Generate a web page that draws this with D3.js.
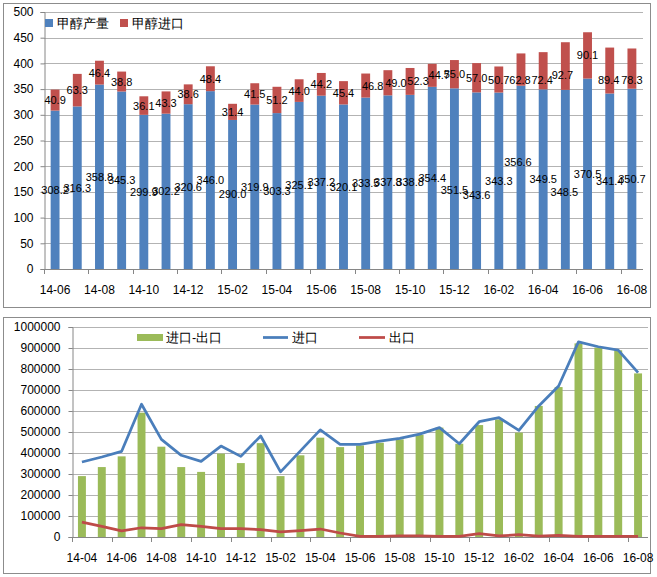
<!DOCTYPE html>
<html><head><meta charset="utf-8">
<script src="https://cdn.jsdelivr.net/npm/d3@7"></script>
<style>body{margin:0;background:#fff}svg{display:block}text{font-family:"Liberation Sans",Arial,sans-serif}</style>
</head><body><svg id="c" width="657" height="577"></svg>
<script>
// ---- Top chart data ----
const topMonths = ["14-06","14-07","14-08","14-09","14-10","14-11","14-12","15-01","15-02","15-03","15-04","15-05","15-06","15-07","15-08","15-09","15-10","15-11","15-12","16-01","16-02","16-03","16-04","16-05","16-06","16-07","16-08"];
const production = [308.2,316.3,358.8,345.3,299.9,302.2,320.6,346.0,290.0,319.9,303.3,325.1,337.2,320.1,333.5,337.8,338.8,354.4,351.5,343.6,343.3,356.6,349.5,348.5,370.5,341.4,350.7];
const imports = [40.9,63.3,46.4,38.8,36.1,43.3,38.6,48.4,31.4,41.5,51.2,44.0,44.2,45.4,46.8,49.0,52.3,44.7,55.0,57.0,50.7,62.8,72.4,92.7,90.1,89.4,78.3];
const topTicks = [0,50,100,150,200,250,300,350,400,450,500];
const topSeriesNames = ["甲醇产量","甲醇进口"];

// ---- Bottom chart data ----
const botMonths = ["14-04","14-05","14-06","14-07","14-08","14-09","14-10","14-11","14-12","15-01","15-02","15-03","15-04","15-05","15-06","15-07","15-08","15-09","15-10","15-11","15-12","16-01","16-02","16-03","16-04","16-05","16-06","16-07","16-08"];
const netImport = [290000,333000,384000,592000,430000,333000,310000,397000,352000,447000,290000,389000,473000,428000,436000,449000,465000,486000,521000,444000,533000,560000,497000,624000,714000,922000,902000,889000,779000];
const importLine = [357000,381000,408000,632000,465000,389000,360000,433000,384000,481000,310000,410000,510000,441000,441000,457000,470000,490000,521000,444000,549000,568000,508000,624000,719000,929000,906000,890000,783000];
const exportLine = [71000,51000,29000,44000,40000,59000,51000,40000,40000,35000,24000,30000,38000,19000,3000,3000,5000,5000,3000,3000,16000,5000,11000,4000,8000,3000,3000,3000,3000];
const botTicks = [0,100000,200000,300000,400000,500000,600000,700000,800000,900000,1000000];
const botSeriesNames = ["进口-出口","进口","出口"];

// ---- layout: manual data-label nudges (px) as in the reference ----
const prodLabelNudge = {"15-12":[0,11],"16-01":[0,14],"16-03":[-3,-15],"16-05":[-1,13]};
const impLabelNudge = {"15-08":[7,0],"15-09":[8,0],"15-10":[8,0],"15-11":[7,0],"16-03":[-1,10],"16-04":[-1,9],"16-05":[-3,9],"16-07":[-1,9.5],"16-08":[0,11]};

const BLUE="#4f81bd", RED="#c0504d", GREEN="#9bbb59", LBLUE="#4a7ebb", LRED="#be4b48";
const GRID="#b3b3b3", AXIS="#868686", BORDER="#8c8c8c";
const CJK='"Noto Sans CJK SC",sans-serif';

const svg = d3.select("#c");

svg.append("rect").attr("x",3.5).attr("y",3.5).attr("width",647).attr("height",304).attr("fill","#fff").attr("stroke",BORDER);
svg.append("rect").attr("x",3.5).attr("y",317.5).attr("width",647).attr("height",256).attr("fill","#fff").attr("stroke",BORDER);

// ================= TOP =================
(function(){
  const L=44, R=643, T=12, B=269;
  const x = d3.scaleBand().domain(topMonths).range([L,R]).padding(0);
  const y = d3.scaleLinear().domain([0,500]).range([B,T]);
  const g = svg.append("g");
  g.selectAll("line.grid").data(topTicks.filter(d=>d>0)).join("line")
    .attr("x1",L).attr("x2",R).attr("y1",d=>Math.round(y(d))+0.5).attr("y2",d=>Math.round(y(d))+0.5)
    .attr("stroke",GRID);
  const ya = g.append("g").attr("transform",`translate(${L+0.5},0)`)
    .call(d3.axisLeft(y).tickValues(topTicks).tickSize(4).tickPadding(7).tickFormat(d3.format("d")));
  ya.select(".domain").attr("stroke",AXIS);
  ya.selectAll(".tick line").attr("stroke",AXIS);
  ya.selectAll(".tick text").attr("font-size",12).attr("fill","#000").attr("font-family","Liberation Sans,Arial");
  const bw = x.bandwidth()*0.4;
  const cx = d=>x(d)+x.bandwidth()/2;
  g.selectAll("rect.p").data(topMonths).join("rect")
    .attr("x",(d)=>cx(d)-bw/2).attr("width",bw)
    .attr("y",(d,i)=>y(production[i])).attr("height",(d,i)=>y(0)-y(production[i]))
    .attr("fill",BLUE);
  g.selectAll("rect.i").data(topMonths).join("rect")
    .attr("x",(d)=>cx(d)-bw/2).attr("width",bw)
    .attr("y",(d,i)=>y(production[i]+imports[i])).attr("height",(d,i)=>y(production[i])-y(production[i]+imports[i]))
    .attr("fill",RED);
  g.append("line").attr("x1",L).attr("x2",R).attr("y1",B+0.5).attr("y2",B+0.5).attr("stroke",AXIS);
  const tickIdx = d3.range(0,topMonths.length+1,2);
  g.selectAll("line.xt").data(tickIdx).join("line")
    .attr("x1",i=>Math.round(i<topMonths.length?x(topMonths[i]):R)+0.5)
    .attr("x2",i=>Math.round(i<topMonths.length?x(topMonths[i]):R)+0.5)
    .attr("y1",B).attr("y2",B+5).attr("stroke",AXIS);
  g.selectAll("text.xl").data(topMonths.filter((d,i)=>i%2===0)).join("text")
    .attr("x",d=>cx(d)).attr("y",B+25).attr("text-anchor","middle").attr("font-size",12).text(d=>d);
  const nd = (m,d,k)=> (m[d]?m[d][k]:0);
  g.selectAll("text.pl").data(topMonths).join("text")
    .attr("x",d=>cx(d)+nd(prodLabelNudge,d,0)).attr("y",(d,i)=>y(production[i]/2)+4+nd(prodLabelNudge,d,1)).attr("text-anchor","middle")
    .attr("font-size",11).text((d,i)=>production[i].toFixed(1));
  g.selectAll("text.il").data(topMonths).join("text")
    .attr("x",d=>cx(d)+nd(impLabelNudge,d,0)).attr("y",(d,i)=>y(production[i]+imports[i]/2)+4+nd(impLabelNudge,d,1)).attr("text-anchor","middle")
    .attr("font-size",11).text((d,i)=>imports[i].toFixed(1));
  const lg = g.append("g");
  [[45,BLUE,topSeriesNames[0]],[120,RED,topSeriesNames[1]]].forEach(([lx,c,t])=>{
    lg.append("rect").attr("x",lx).attr("y",19).attr("width",8).attr("height",8).attr("fill",c);
    lg.append("text").attr("x",lx+12).attr("y",27.5).attr("font-size",12.5).attr("font-family",CJK).text(t);
  });
})();

// ================= BOTTOM =================
(function(){
  const L=72, R=648, T=327, B=537;
  const x = d3.scaleBand().domain(botMonths).range([L,R]).padding(0);
  const y = d3.scaleLinear().domain([0,1000000]).range([B,T]);
  const g = svg.append("g");
  g.selectAll("line.grid").data(botTicks.filter(d=>d>0)).join("line")
    .attr("x1",L).attr("x2",R).attr("y1",d=>Math.round(y(d))+0.5).attr("y2",d=>Math.round(y(d))+0.5)
    .attr("stroke",GRID);
  const ya = g.append("g").attr("transform",`translate(${L+0.5},0)`)
    .call(d3.axisLeft(y).tickValues(botTicks).tickSize(4).tickPadding(8).tickFormat(d3.format("d")));
  ya.select(".domain").attr("stroke",AXIS);
  ya.selectAll(".tick line").attr("stroke",AXIS);
  ya.selectAll(".tick text").attr("font-size",12).attr("fill","#000").attr("font-family","Liberation Sans,Arial");
  const bw = x.bandwidth()*0.4;
  const cx = d=>x(d)+x.bandwidth()/2;
  g.selectAll("rect.n").data(botMonths).join("rect")
    .attr("x",d=>cx(d)-bw/2).attr("width",bw)
    .attr("y",(d,i)=>y(netImport[i])).attr("height",(d,i)=>y(0)-y(netImport[i]))
    .attr("fill",GREEN);
  g.append("line").attr("x1",L).attr("x2",R).attr("y1",B+0.5).attr("y2",B+0.5).attr("stroke",AXIS);
  const tickIdx = d3.range(0,botMonths.length+1,2);
  g.selectAll("line.xt").data(tickIdx).join("line")
    .attr("x1",i=>Math.round(i<botMonths.length?x(botMonths[i]):R)+0.5)
    .attr("x2",i=>Math.round(i<botMonths.length?x(botMonths[i]):R)+0.5)
    .attr("y1",B).attr("y2",B+5).attr("stroke",AXIS);
  g.selectAll("text.xl").data(botMonths.filter((d,i)=>i%2===0)).join("text")
    .attr("x",d=>cx(d)).attr("y",B+25).attr("text-anchor","middle").attr("font-size",12).text(d=>d);
  const line = arr => d3.line().x((d,i)=>cx(botMonths[i])).y(d=>y(d))(arr);
  g.append("path").attr("d",line(exportLine)).attr("fill","none").attr("stroke",LRED).attr("stroke-width",2.75).attr("stroke-linejoin","round");
  g.append("path").attr("d",line(importLine)).attr("fill","none").attr("stroke",LBLUE).attr("stroke-width",2.75).attr("stroke-linejoin","round");
  const lg = g.append("g");
  lg.append("rect").attr("x",137).attr("y",334).attr("width",26).attr("height",7).attr("fill",GREEN);
  lg.append("text").attr("x",166).attr("y",342).attr("font-size",12.5).attr("font-family",CJK).text(botSeriesNames[0]);
  lg.append("line").attr("x1",263).attr("x2",288).attr("y1",337.5).attr("y2",337.5).attr("stroke",LBLUE).attr("stroke-width",2.75);
  lg.append("text").attr("x",292).attr("y",342).attr("font-size",12.5).attr("font-family",CJK).text(botSeriesNames[1]);
  lg.append("line").attr("x1",359).attr("x2",385).attr("y1",337.5).attr("y2",337.5).attr("stroke",LRED).attr("stroke-width",2.75);
  lg.append("text").attr("x",389).attr("y",342).attr("font-size",12.5).attr("font-family",CJK).text(botSeriesNames[2]);
})();
</script></body></html>
